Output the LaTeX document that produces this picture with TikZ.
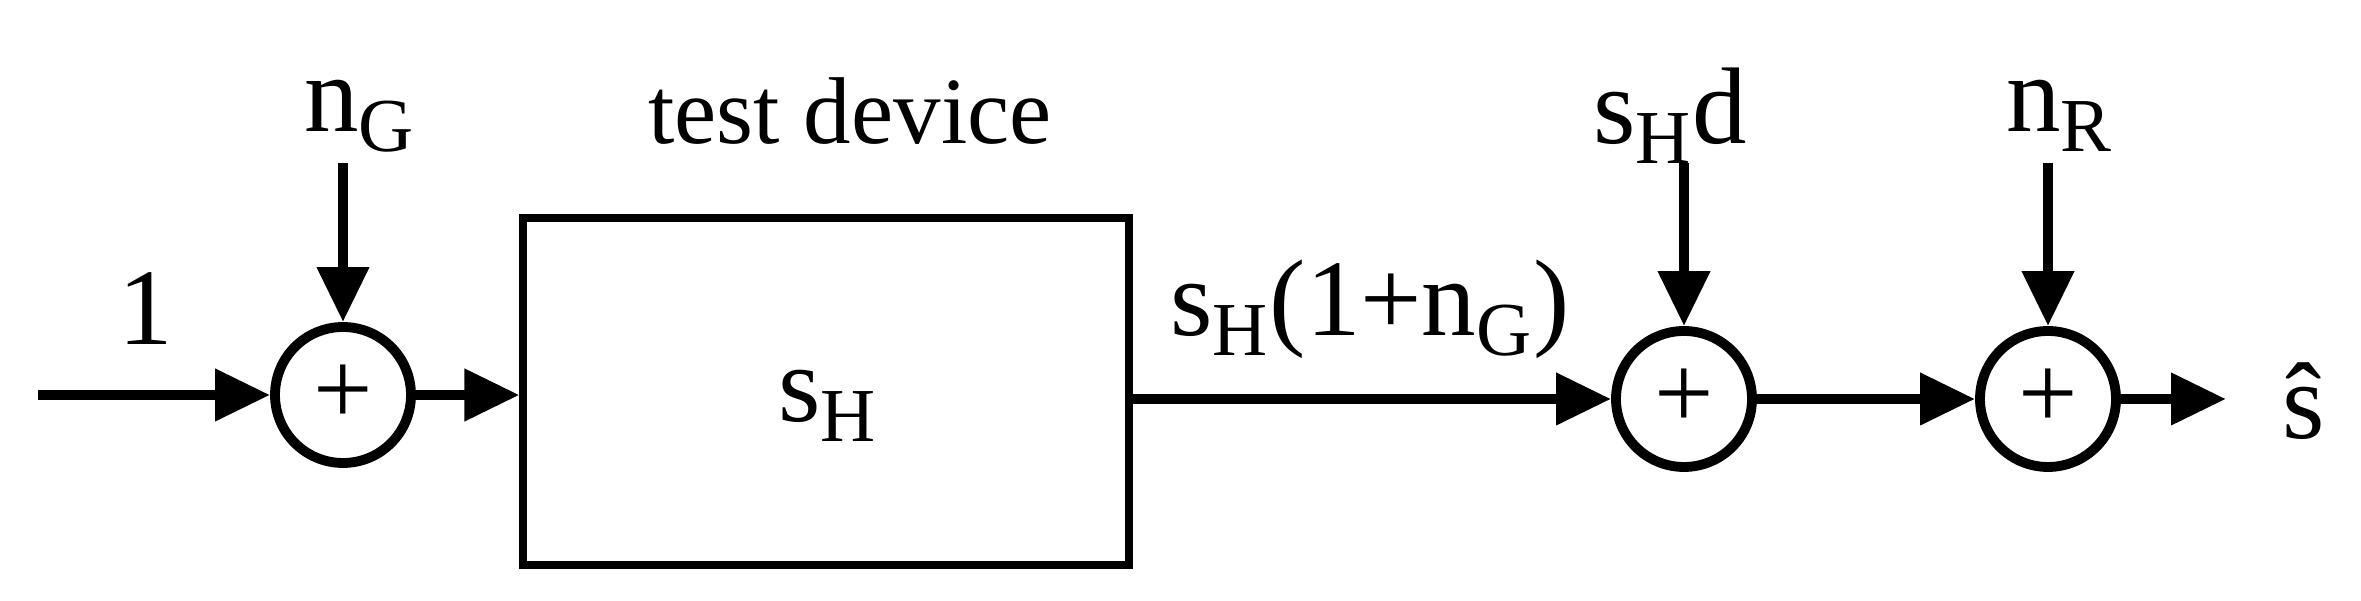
\documentclass[tikz,border=0pt]{standalone}
\usepackage{fontspec}
\setmainfont{Liberation Serif}
\usetikzlibrary{arrows.meta}
\begin{document}
\begin{tikzpicture}[
  sumnode/.style={circle,draw,line width=2.8pt,minimum size=1.36cm,inner sep=0pt,font=\fontsize{30}{30}\selectfont},
  sig/.style={line width=3pt,-{Triangle[length=0.55cm,width=0.5cm]}},
  lab/.style={font=\fontsize{31}{31}\selectfont,inner sep=0pt}]
\useasboundingbox (0,0) rectangle (23.61,6.01);
\node[sumnode] (c1) at (3.43,2.06) {+};
\node[sumnode] (c2) at (16.84,2.02) {+};
\node[sumnode] (c3) at (20.48,2.02) {+};
\node[draw,line width=2pt,minimum width=6.06cm,minimum height=3.47cm,inner sep=0pt] (box) at (8.26,2.095) {};
\node[lab] (sh) at (8.28,1.95) {s\textsubscript{H}};
\coordinate (in) at (0.38,2.06);
\coordinate (t1) at (3.43,4.38);
\coordinate (t2) at (16.84,4.38);
\coordinate (t3) at (20.48,4.38);
\coordinate (out) at (22.26,2.02);
\node[lab] (nG) at (3.6,4.85) {n\textsubscript{G}};
\node[lab,font=\fontsize{27}{27}\selectfont] (td) at (8.5,4.9) {test device};
\node[lab] (shd) at (16.7,4.85) {s\textsubscript{H}d};
\node[lab] (nR) at (20.6,4.85) {n\textsubscript{R}};
\node[lab] (one) at (1.46,2.92) {1};
\node[lab] (mid) at (13.7,2.92) {s\textsubscript{H}(1+n\textsubscript{G})};
\node[lab] (shat) at (23.04,2.0) {\^{s}};
\draw[sig] (in) -- (c1);
\draw[sig] (c1) -- (c1 -| box.west);
\draw[sig] (box.east |- c2) -- (c2);
\draw[sig] (c2) -- (c3);
\draw[sig] (c3) -- (out);
\draw[sig] (t1) -- (c1);
\draw[sig] (t2) -- (c2);
\draw[sig] (t3) -- (c3);
\end{tikzpicture}
\end{document}
